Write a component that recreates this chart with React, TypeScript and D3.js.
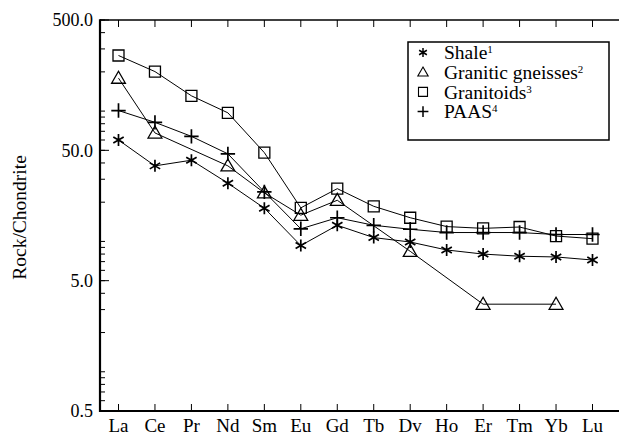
import React from 'react';
import * as d3 from 'd3';

// REE chondrite-normalised patterns
const categories = ['La', 'Ce', 'Pr', 'Nd', 'Sm', 'Eu', 'Gd', 'Tb', 'Dv', 'Ho', 'Er', 'Tm', 'Yb', 'Lu'];
const shale = [60, 38, 42, 28, 18, 9.3, 13.3, 10.7, 9.9, 8.6, 8.0, 7.7, 7.6, 7.2];
const gneisses = [179, 68, null, 38, 23.6, 15.9, 20.7, null, 8.4, null, 3.3, null, 3.3, null];
const granitoids = [267, 201, 131, 97, 48, 18.1, 25.4, 18.6, 15.2, 13.0, 12.6, 12.9, 11.0, 10.5];
const paas = [101, 82, 64, 47, 24, 12.5, 15.2, 13.3, 12.4, 11.7, 11.7, 11.7, 11.3, 11.3];
const majorTicks = [0.5, 5, 50, 500];
const majorLabels = ['0.5', '5.0', '50.0', '500.0'];

const W = 619;
const H = 435;
const left = 100;
const top = 20;
const bottom = 411;
const font = 'Liberation Serif, DejaVu Serif, serif';

const x = d3.scalePoint<string>().domain(categories).range([118.5, 592.5]);
const y = d3.scaleLog().domain([0.5, 500]).range([bottom, top]);

function marker(kind: string, s: number) {
  if (kind === 'square') return `M${-s},${-s}H${s}V${s}H${-s}Z`;
  if (kind === 'triangle') return `M0,${-s * 1.15}L${s * 1.15},${s * 0.85}L${-s * 1.15},${s * 0.85}Z`;
  if (kind === 'plus') return `M${-s * 1.2},0H${s * 1.2}M0,${-s * 1.2}V${s * 1.2}`;
  // asterisk
  const a = s * Math.cos(Math.PI / 6);
  const b = s * Math.sin(Math.PI / 6);
  return `M0,${-s}V${s}M${-a},${-b}L${a},${b}M${-a},${b}L${a},${-b}`;
}

const series = [
  { name: 'Shale', sup: '1', values: shale, kind: 'asterisk' },
  { name: 'Granitic gneisses', sup: '2', values: gneisses, kind: 'triangle' },
  { name: 'Granitoids', sup: '3', values: granitoids, kind: 'square' },
  { name: 'PAAS', sup: '4', values: paas, kind: 'plus' },
];

const txt = { fontFamily: font, fontSize: 18 };

export default function App() {
  const line = d3.line<[string, number]>()
    .x(d => x(d[0]) as number)
    .y(d => y(d[1]));

  const minor = y.ticks();

  return (
    <svg width={W} height={H} style={{ position: 'absolute', left: 0, top: 0, background: '#fff' }}>
      {/* frame */}
      <line x1={left} y1={top} x2={W} y2={top} stroke="#000" strokeWidth={1.5} />
      <line x1={left} y1={bottom} x2={W} y2={bottom} stroke="#000" strokeWidth={2} />
      <line x1={left} y1={top - 0.75} x2={left} y2={bottom + 1} stroke="#000" strokeWidth={2.2} />

      {/* y ticks */}
      {minor.map(v => (
        <line key={'m' + v} x1={left} x2={left + 5} y1={y(v)} y2={y(v)} stroke="#000" strokeWidth={1} />
      ))}
      {majorTicks.map((v, i) => (
        <g key={'M' + v}>
          <line x1={left} x2={left + 9} y1={y(v)} y2={y(v)} stroke="#000" strokeWidth={1} />
          <text x={left - 7} y={y(v)} dy="0.35em" textAnchor="end" style={txt}>
            {majorLabels[i]}
          </text>
        </g>
      ))}

      {/* x ticks */}
      {categories.map(c => (
        <g key={c}>
          <line x1={x(c)} x2={x(c)} y1={bottom} y2={bottom - 7} stroke="#000" strokeWidth={1} />
          <line x1={x(c)} x2={x(c)} y1={top} y2={top + 7} stroke="#000" strokeWidth={1} />
          <text x={x(c)} y={432} textAnchor="middle" style={{ ...txt, fontSize: 19 }}>{c}</text>
        </g>
      ))}

      <text transform={`translate(26,${(top + bottom) / 2 + 2}) rotate(-90)`} textAnchor="middle"
        style={{ ...txt, fontSize: 19.5 }}>Rock/Chondrite</text>

      {/* series */}
      {series.map(s => {
        const pts = categories
          .map((c, i) => [c, s.values[i]] as [string, number | null])
          .filter(d => d[1] != null) as [string, number][];
        return (
          <g key={s.name}>
            <path d={line(pts) ?? ''} fill="none" stroke="#000" strokeWidth={1} />
            {pts.map(d => (
              <path key={d[0]} transform={`translate(${x(d[0])},${y(d[1])})`}
                d={marker(s.kind, s.kind === 'square' ? 5.5 : 6)}
                fill="none" stroke="#000" strokeWidth={s.kind === 'plus' || s.kind === 'asterisk' ? 1.7 : 1.3} />
            ))}
          </g>
        );
      })}

      {/* legend */}
      <rect x={408} y={42} width={201} height={98} fill="#fff" stroke="#000" strokeWidth={1.5} />
      {series.map((s, i) => {
        const cy = 52.5 + i * 19.7;
        return (
          <g key={'lg' + s.name}>
            <path transform={`translate(423,${cy})`} d={marker(s.kind, 4.5)} fill="none" stroke="#000"
              strokeWidth={s.kind === 'plus' || s.kind === 'asterisk' ? 1.5 : 1.1} />
            <text x={444} y={cy} dy="0.35em" style={{ ...txt, fontSize: 19.5 }}>
              {s.name}
              <tspan style={{ fontSize: 11 }} dy={-6}>{s.sup}</tspan>
            </text>
          </g>
        );
      })}
    </svg>
  );
}
